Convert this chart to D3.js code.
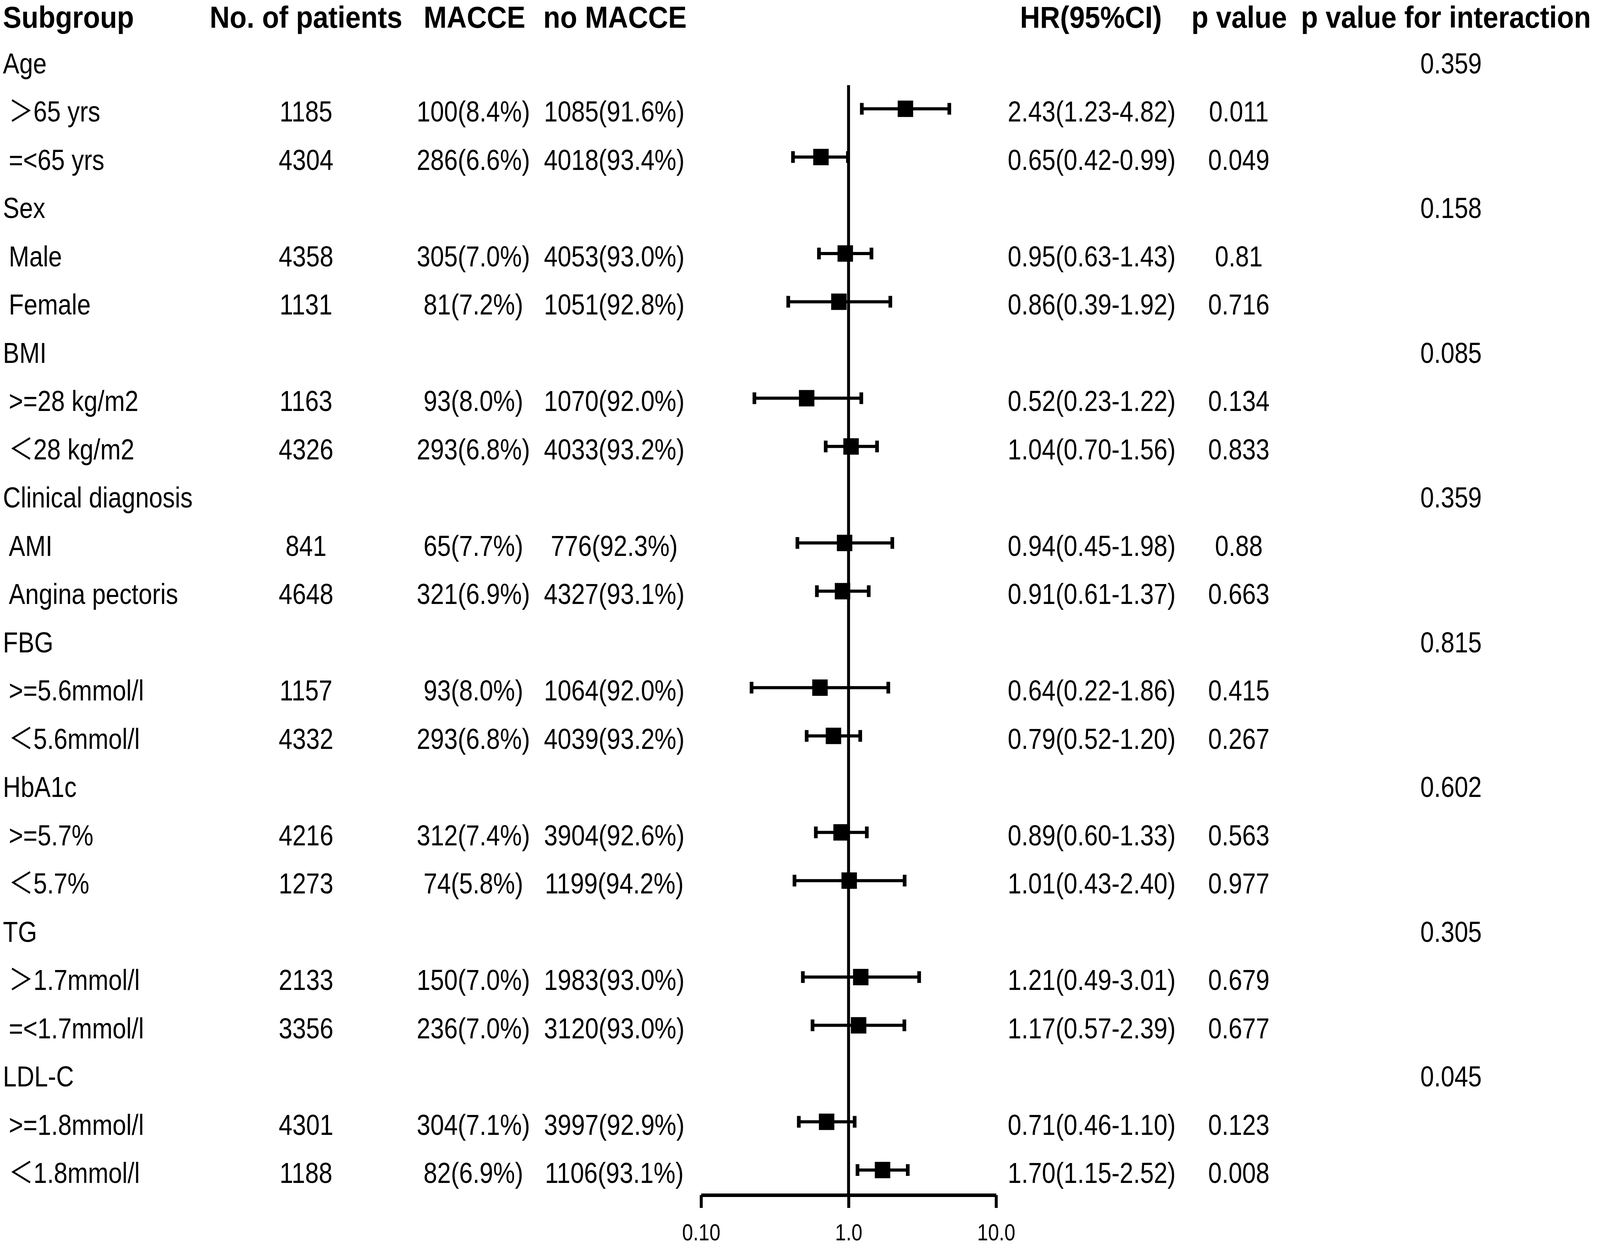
<!DOCTYPE html>
<html>
<head>
<meta charset="utf-8">
<script src="https://cdn.jsdelivr.net/npm/d3@7"></script>
<style>
  html, body { margin: 0; padding: 0; background: #fff; overflow: hidden; }
  svg { display: block; width: 100vw; height: 100vh; }
</style>
</head>
<body>
<svg id="chart"></svg>
<script>
// Subgroup forest plot: MACCE hazard ratios

const groups = ["Age", "Sex", "BMI", "Clinical diagnosis", "FBG", "HbA1c", "TG", "LDL-C"];
const pInteraction = ["0.359", "0.158", "0.085", "0.359", "0.815", "0.602", "0.305", "0.045"];

const subLabels = [
    "＞65 yrs", "=<65 yrs",
    "Male", "Female",
    ">=28 kg/m2", "＜28 kg/m2",
    "AMI", "Angina pectoris",
    ">=5.6mmol/l", "＜5.6mmol/l",
    ">=5.7%", "＜5.7%",
    "＞1.7mmol/l", "=<1.7mmol/l",
    ">=1.8mmol/l", "＜1.8mmol/l"
];
const patients = [1185, 4304, 4358, 1131, 1163, 4326, 841, 4648, 1157, 4332, 4216, 1273, 2133, 3356, 4301, 1188];
const macce = [100, 286, 305, 81, 93, 293, 65, 321, 93, 293, 312, 74, 150, 236, 304, 82];
const maccePct = ["8.4", "6.6", "7.0", "7.2", "8.0", "6.8", "7.7", "6.9", "8.0", "6.8", "7.4", "5.8", "7.0", "7.0", "7.1", "6.9"];
const noMacce = [1085, 4018, 4053, 1051, 1070, 4033, 776, 4327, 1064, 4039, 3904, 1199, 1983, 3120, 3997, 1106];
const noMaccePct = ["91.6", "93.4", "93.0", "92.8", "92.0", "93.2", "92.3", "93.1", "92.0", "93.2", "92.6", "94.2", "93.0", "93.0", "92.9", "93.1"];
const hr = [2.43, 0.65, 0.95, 0.86, 0.52, 1.04, 0.94, 0.91, 0.64, 0.79, 0.89, 1.01, 1.21, 1.17, 0.71, 1.70];
const hrLow = [1.23, 0.42, 0.63, 0.39, 0.23, 0.70, 0.45, 0.61, 0.22, 0.52, 0.60, 0.43, 0.49, 0.57, 0.46, 1.15];
const hrHigh = [4.82, 0.99, 1.43, 1.92, 1.22, 1.56, 1.98, 1.37, 1.86, 1.20, 1.33, 2.40, 3.01, 2.39, 1.10, 2.52];
const pValues = ["0.011", "0.049", "0.81", "0.716", "0.134", "0.833", "0.88", "0.663", "0.415", "0.267", "0.563", "0.977", "0.679", "0.677", "0.123", "0.008"];

const tickValues = [0.1, 1, 10];
const tickLabels = ["0.10", "1.0", "10.0"];

const headers = [
    { text: "Subgroup", x: 8, anchor: "start" },
    { text: "No. of patients", x: 832, anchor: "middle" },
    { text: "MACCE", x: 1290, anchor: "middle" },
    { text: "no MACCE", x: 1672, anchor: "middle" },
    { text: "HR(95%CI)", x: 2966, anchor: "middle" },
    { text: "p value", x: 3369, anchor: "middle" },
    { text: "p value for interaction", x: 3537, anchor: "start" }
];

const width = 4350;
const height = 3192;
const FONT = "'Liberation Sans', Arial, 'Noto Sans CJK SC', sans-serif";

// stretch the drawing to the whole window
const svg = d3.select('#chart')
    .attr('viewBox', `0 0 ${width} ${height}`)
    .attr('preserveAspectRatio', 'none');

svg.append('rect')
    .attr('width', width)
    .attr('height', height)
    .attr('fill', '#fff');

// row index -> text baseline
const y = d3.scaleLinear().domain([0, 23]).range([188, 3028]);
// hazard ratio on log scale
const x = d3.scaleLog().domain([0.1, 10]).range([1906, 2708]);
const axisY = 3059;
const markerOffset = 33;

function addText(g, str, tx, ty, anchor, size, sx, bold) {
    g.append('text')
        .attr('transform', `translate(${tx},${ty}) scale(${sx},1)`)
        .attr('text-anchor', anchor)
        .attr('font-family', FONT)
        .attr('font-size', size)
        .attr('font-weight', bold ? 'bold' : 'normal')
        .attr('fill', '#000')
        .text(str);
}

// Header
const head = svg.append('g').attr('class', 'header');
headers.forEach(h => addText(head, h.text, h.x, 71, h.anchor, 77, 0.98, true));

// Table rows
const table = svg.append('g').attr('class', 'table');
groups.forEach((name, gi) => {
    const row = gi * 3;
    addText(table, name, 8, y(row), 'start', 75, 0.89, false);
    addText(table, pInteraction[gi], 3945, y(row), 'middle', 75, 0.89, false);
});

subLabels.forEach((name, i) => {
    const row = Math.floor(i / 2) * 3 + 1 + (i % 2);
    const ty = y(row);
    addText(table, name, 24, ty, 'start', 75, 0.89, false);
    addText(table, String(patients[i]), 832, ty, 'middle', 75, 0.89, false);
    addText(table, `${macce[i]}(${maccePct[i]}%)`, 1287, ty, 'middle', 75, 0.89, false);
    addText(table, `${noMacce[i]}(${noMaccePct[i]}%)`, 1670, ty, 'middle', 75, 0.89, false);
    addText(table, `${hr[i].toFixed(2)}(${hrLow[i].toFixed(2)}-${hrHigh[i].toFixed(2)})`, 2968, ty, 'middle', 75, 0.89, false);
    addText(table, pValues[i], 3368, ty, 'middle', 75, 0.89, false);
});

// Reference line at HR = 1
svg.append('line')
    .attr('x1', x(1)).attr('x2', x(1))
    .attr('y1', 218).attr('y2', axisY)
    .attr('stroke', '#000')
    .attr('stroke-width', 8);

// Forest marks
const points = subLabels.map((name, i) => ({
    row: Math.floor(i / 2) * 3 + 1 + (i % 2),
    hr: hr[i], lo: hrLow[i], hi: hrHigh[i]
}));

const marks = svg.append('g').attr('class', 'marks');

marks.selectAll('.ci')
    .data(points)
    .enter()
    .append('line')
    .attr('class', 'ci')
    .attr('x1', d => x(d.lo))
    .attr('x2', d => x(d.hi))
    .attr('y1', d => y(d.row) - markerOffset)
    .attr('y2', d => y(d.row) - markerOffset)
    .attr('stroke', '#000')
    .attr('stroke-width', 8);

['lo', 'hi'].forEach(key => {
    marks.selectAll(`.cap-${key}`)
        .data(points)
        .enter()
        .append('line')
        .attr('class', `cap-${key}`)
        .attr('x1', d => x(d[key]))
        .attr('x2', d => x(d[key]))
        .attr('y1', d => y(d.row) - markerOffset - 15)
        .attr('y2', d => y(d.row) - markerOffset + 15)
        .attr('stroke', '#000')
        .attr('stroke-width', 10);
});

marks.selectAll('.est')
    .data(points)
    .enter()
    .append('rect')
    .attr('class', 'est')
    .attr('x', d => x(d.hr) - 21)
    .attr('y', d => y(d.row) - markerOffset - 21)
    .attr('width', 42)
    .attr('height', 42)
    .attr('fill', '#000');

// X axis
const axis = d3.axisBottom(x)
    .tickValues(tickValues)
    .tickFormat((d, i) => tickLabels[i])
    .tickSize(33)
    .tickSizeOuter(0)
    .tickPadding(40);

const axisG = svg.append('g')
    .attr('transform', `translate(0,${axisY})`)
    .call(axis);

axisG.select('.domain')
    .attr('stroke', '#000')
    .attr('stroke-width', 9);

axisG.selectAll('.tick line')
    .attr('stroke', '#000')
    .attr('stroke-width', 8);

axisG.selectAll('.tick text')
    .attr('font-family', FONT)
    .attr('font-size', 60)
    .attr('fill', '#000')
    .attr('transform', 'scale(0.89,1)');
</script>
</body>
</html>
